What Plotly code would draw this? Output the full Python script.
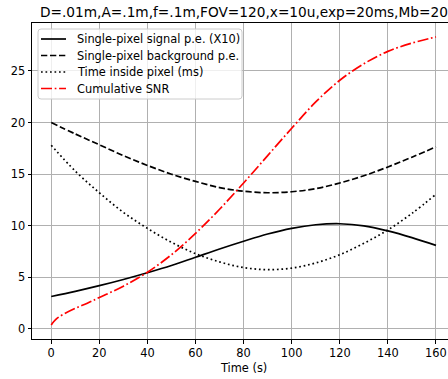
import plotly.graph_objects as go

# ---- data ----
time_s = [0, 10, 20, 30, 40, 50, 60, 70, 80, 90, 100, 110, 120, 130, 140, 150, 160]
signal_pe_x10 = [3.15, 3.65, 4.2, 4.8, 5.45, 6.15, 6.95, 7.75, 8.5, 9.2, 9.75, 10.1, 10.2, 10.0, 9.5, 8.85, 8.1]
background_pe = [20.0, 18.9, 17.85, 16.8, 15.85, 15.0, 14.3, 13.7, 13.35, 13.2, 13.3, 13.6, 14.15, 14.85, 15.7, 16.65, 17.65]
time_in_pixel_ms = [17.8, 15.3, 13.2, 11.3, 9.75, 8.4, 7.3, 6.5, 5.95, 5.75, 5.9, 6.4, 7.2, 8.3, 9.6, 11.2, 13.05]
snr_time_s = [0, 1, 2.5, 5, 10, 15, 20, 30, 40, 50, 60, 70, 80, 90, 100, 110, 120, 130, 140, 150, 160]
cumulative_snr = [0.39, 0.7, 1.05, 1.42, 2.0, 2.5, 3.05, 4.15, 5.5, 7.2, 9.27, 11.6, 14.15, 16.8, 19.45, 22.0, 24.1, 25.7, 26.9, 27.7, 28.3]

series_names = ["Single-pixel signal p.e. (X10)", "Single-pixel background p.e.",
                "Time inside pixel (ms)", "Cumulative SNR"]
x_ticks = [0, 20, 40, 60, 80, 100, 120, 140, 160]
y_ticks = [0, 5, 10, 15, 20, 25]
title_text = "D=.01m,A=.1m,f=.1m,FOV=120,x=10u,exp=20ms,Mb=20"
x_label = "Time (s)"

FONT = "DejaVu Sans"
W, H = 448, 379
L, R, T, B = 32, 0, 23, 40
PW, PH = W - L - R, H - T - B


def px_x(p):
    return (p - L) / PW


def px_y(p):
    return (H - B - p) / PH


styles = [
    dict(color="black", dash="solid"),
    dict(color="black", dash="6.3px,2.7px"),
    dict(color="black", dash="1.7px,2.8px"),
    dict(color="red", dash="11px,2.7px,1.7px,2.7px"),
]
xs = [time_s, time_s, time_s, snr_time_s]
ys = [signal_pe_x10, background_pe, time_in_pixel_ms, cumulative_snr]

fig = go.Figure()
for name, st, xv, yv in zip(series_names, styles, xs, ys):
    fig.add_trace(go.Scatter(x=xv, y=yv, mode="lines", name=name, showlegend=False,
                             line=dict(color=st["color"], width=1.7, shape="spline", dash=st["dash"])))

# ---- manual legend (matplotlib-like) ----
bx0, bx1, by0, by1, rad = 38, 242, 29, 99, 3
path = (f"M {px_x(bx0 + rad)},{px_y(by0)} L {px_x(bx1 - rad)},{px_y(by0)} "
        f"Q {px_x(bx1)},{px_y(by0)} {px_x(bx1)},{px_y(by0 + rad)} "
        f"L {px_x(bx1)},{px_y(by1 - rad)} Q {px_x(bx1)},{px_y(by1)} {px_x(bx1 - rad)},{px_y(by1)} "
        f"L {px_x(bx0 + rad)},{px_y(by1)} Q {px_x(bx0)},{px_y(by1)} {px_x(bx0)},{px_y(by1 - rad)} "
        f"L {px_x(bx0)},{px_y(by0 + rad)} Q {px_x(bx0)},{px_y(by0)} {px_x(bx0 + rad)},{px_y(by0)} Z")
shapes = [dict(type="path", path=path, xref="paper", yref="paper", layer="above",
               fillcolor="rgba(255,255,255,0.8)", line=dict(color="#cccccc", width=1))]
annotations = []
row_y = [39, 55.5, 72, 88.5]
for name, st, ry in zip(series_names, styles, row_y):
    shapes.append(dict(type="line", xref="paper", yref="paper", layer="above",
                       x0=px_x(41), x1=px_x(66), y0=px_y(ry), y1=px_y(ry),
                       line=dict(color=st["color"], width=1.7, dash=st["dash"])))
    annotations.append(dict(text=name, xref="paper", yref="paper", x=px_x(75), y=px_y(ry),
                            xanchor="left", yanchor="middle", showarrow=False,
                            font=dict(family=FONT, size=11.4, color="black")))

annotations += [
    dict(text=title_text, xref="paper", yref="paper", x=px_x(38), y=px_y(12),
         xanchor="left", yanchor="middle", showarrow=False,
         font=dict(family=FONT, size=13.7, color="black")),
    dict(text=x_label, xref="paper", yref="paper", x=px_x(243), y=px_y(368),
         xanchor="center", yanchor="middle", showarrow=False,
         font=dict(family=FONT, size=11.4, color="black")),
]

fig.update_layout(
    width=W, height=H,
    margin=dict(l=L, r=R, t=T, b=B),
    paper_bgcolor="white", plot_bgcolor="white",
    font=dict(family=FONT, size=11.4, color="black"),
    showlegend=False,
    xaxis=dict(range=[-8, 165.0], tickvals=x_ticks, showgrid=True, gridcolor="#b0b0b0", gridwidth=0.9,
               zeroline=False, showline=True, linecolor="black", linewidth=1, mirror=True,
               ticks="outside", ticklen=3.5, tickcolor="black", tickwidth=1),
    yaxis=dict(range=[-0.97, 29.65], tickvals=y_ticks, showgrid=True, gridcolor="#b0b0b0", gridwidth=0.9,
               zeroline=False, showline=True, linecolor="black", linewidth=1,
               ticks="outside", ticklen=3.5, tickcolor="black", tickwidth=1),
    shapes=shapes,
    annotations=annotations,
)

fig.write_html("out.html")
